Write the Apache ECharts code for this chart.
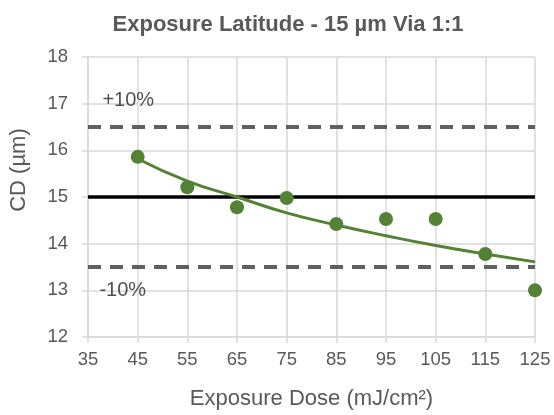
<!DOCTYPE html>
<html><head><meta charset="utf-8">
<script src="https://cdn.jsdelivr.net/npm/echarts@6/dist/echarts.min.js"></script>
<style>html,body{margin:0;padding:0;background:#fff}#c{width:554px;height:415px}</style>
</head><body><div id="c"></div>
<script>
const doses = [45, 55, 65, 75, 85, 95, 105, 115, 125];
const cdValues = [15.86, 15.21, 14.78, 14.98, 14.42, 14.53, 14.53, 13.78, 13.0];
const trendValues = [15.82, 15.34, 15.0, 14.66, 14.40, 14.17, 13.96, 13.78, 13.61];
const target = 15;
const upperLimit = 16.5;
const lowerLimit = 13.5;
const xRange = [35, 125];
const limitLabels = ['+10%', '-10%'];

const font = 'Liberation Sans, Arial, sans-serif';
const chart = echarts.init(document.getElementById('c'));
chart.setOption({
  animation: false,
  title: {
    text: 'Exposure Latitude - 15 µm Via 1:1',
    left: 283, textAlign: 'center', top: 9,
    textStyle: { fontFamily: font, fontSize: 22, fontWeight: 'bold', color: '#595959' }
  },
  grid: { left: 86, right: 19, top: 57, bottom: 78 },
  xAxis: {
    type: 'value', min: 35, max: 125, interval: 10,
    name: 'Exposure Dose (mJ/cm²)', nameLocation: 'middle', nameGap: 51,
    nameTextStyle: { fontFamily: font, fontSize: 22, color: '#595959' },
    axisLine: { lineStyle: { color: '#d9d9d9', width: 1.5 } },
    axisTick: { show: true, length: 6, lineStyle: { color: '#d9d9d9', width: 1.5 } },
    axisLabel: { fontFamily: font, fontSize: 18.5, color: '#595959', margin: 13 },
    splitLine: { show: true, lineStyle: { color: '#d9d9d9', width: 1.5 } }
  },
  yAxis: {
    type: 'value', min: 12, max: 18, interval: 1,
    name: 'CD (µm)', nameLocation: 'middle', nameGap: 58, nameRotate: 90,
    nameTextStyle: { fontFamily: font, fontSize: 22, color: '#595959', padding: [0, 0, 0, 54] },
    axisLine: { show: true, lineStyle: { color: '#d9d9d9', width: 1.5 } },
    axisTick: { show: true, length: 6, lineStyle: { color: '#d9d9d9', width: 1.5 } },
    axisLabel: { fontFamily: font, fontSize: 18.5, color: '#595959', margin: 20 },
    splitLine: { show: true, lineStyle: { color: '#d9d9d9', width: 1.5 } }
  },
  series: [
    {
      type: 'line', data: [[xRange[0], upperLimit], [xRange[1], upperLimit]],
      symbol: 'none', lineStyle: { color: '#606060', width: 4, type: [13, 9] }, z: 2
    },
    {
      type: 'line', data: [[xRange[0], lowerLimit], [xRange[1], lowerLimit]],
      symbol: 'none', lineStyle: { color: '#606060', width: 4, type: [13, 9] }, z: 2
    },
    {
      type: 'line', data: [[xRange[0], target], [xRange[1], target]],
      symbol: 'none', lineStyle: { color: '#000000', width: 3.5 }, z: 2
    },
    {
      type: 'line', data: doses.map((d, i) => [d, trendValues[i]]),
      smooth: true, symbol: 'none', lineStyle: { color: '#548235', width: 3 }, z: 3
    },
    {
      type: 'scatter', data: doses.map((d, i) => [d, cdValues[i]]),
      symbol: 'circle', symbolSize: 14, itemStyle: { color: '#548235', opacity: 1 }, z: 4
    },
    {
      type: 'scatter', symbolSize: 0, silent: true,
      data: [[43.1, 17.07, limitLabels[0]], [42.0, 13.0, limitLabels[1]]],
      label: {
        show: true, position: 'inside', formatter: p => p.value[2],
        fontFamily: font, fontSize: 20, color: '#262626'
      }
    }
  ]
});
</script></body></html>
